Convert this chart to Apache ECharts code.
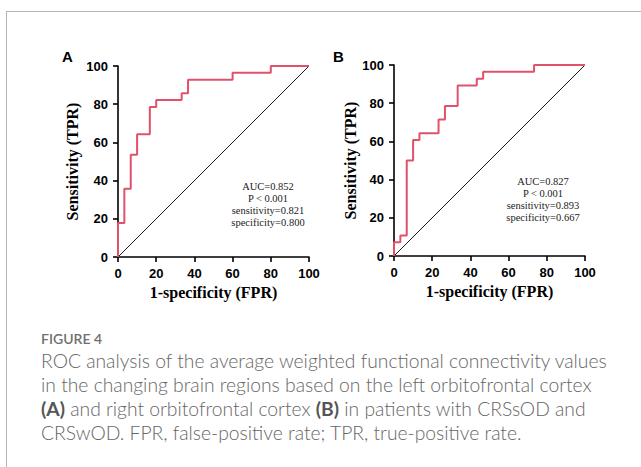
<!DOCTYPE html>
<html>
<head>
<meta charset="utf-8">
<script src="https://cdn.jsdelivr.net/npm/echarts@6/dist/echarts.min.js"></script>
<style>
  html, body { margin: 0; padding: 0; background: #fff; }
  body { width: 641px; height: 467px; position: relative; overflow: hidden; }
  #frame { position: absolute; left: 6px; top: 11px; width: 700px; height: 520px; border: 1px solid #b4b4b4; box-sizing: border-box; }
  #chart { position: absolute; left: 0; top: 0; width: 641px; height: 320px; }
  .cap { position: absolute; left: 41px; font-family: Lato, "Open Sans", sans-serif; color: #666; white-space: nowrap; }
  .fig { top: 331px; font-size: 14px; font-weight: 600; line-height: 16px; color: #707070; }
  .line { font-size: 19.3px; line-height: 24px; font-weight: 300; }
  .line b { font-weight: 700; color: #555; }
</style>
</head>
<body>
<div id="frame"></div>
<div id="chart"></div>
<div class="cap fig">FIGURE 4</div>
<div class="cap line" style="top:349px">ROC analysis of the average weighted functional connectivity values</div>
<div class="cap line" style="top:373px">in the changing brain regions based on the left orbitofrontal cortex</div>
<div class="cap line" style="top:397px"><b>(A)</b> and right orbitofrontal cortex <b>(B)</b> in patients with CRSsOD and</div>
<div class="cap line" style="top:421px">CRSwOD. FPR, false-positive rate; TPR, true-positive rate.</div>
<script>
// ---- data ----
const xTicks = [0, 20, 40, 60, 80, 100];
const yTicks = [0, 20, 40, 60, 80, 100];
const fprA = [0, 0, 3.33, 6.67, 10, 16.67, 20, 33.33, 36.67, 60, 80, 100];
const tprA = [0, 17.86, 35.71, 53.57, 64.29, 78.57, 82.14, 85.71, 92.86, 96.43, 100, 100];
const fprB = [0, 0, 3.33, 6.67, 10, 13.33, 23.33, 26.67, 33.33, 43.33, 46.67, 73.33, 100];
const tprB = [0, 7.14, 10.71, 50, 60.71, 64.29, 71.43, 78.57, 89.29, 92.86, 96.43, 100, 100];
const refX = [0, 100];
const refY = [0, 100];
const statsA = ['AUC=0.852', 'P < 0.001', 'sensitivity=0.821', 'specificity=0.800'];
const statsB = ['AUC=0.827', 'P < 0.001', 'sensitivity=0.893', 'specificity=0.667'];
const panelLabels = ['A', 'B'];
const xName = '1-specificity (FPR)';
const yName = 'Sensitivity (TPR)';

const pairs = (xs, ys) => xs.map((x, i) => [x, ys[i]]);

const axisCommon = {
  type: 'value', min: 0, max: 100, interval: 20,
  axisLine: { show: true, lineStyle: { color: '#000', width: 1.6 } },
  axisTick: { show: true, inside: false, length: 5, lineStyle: { color: '#000', width: 1.6 } },
  axisLabel: { color: '#000', fontFamily: '"Liberation Sans", Arial, sans-serif', fontWeight: 'bold', fontSize: 13, margin: 10 },
  splitLine: { show: false },
  nameLocation: 'middle',
  nameTextStyle: { color: '#000', fontFamily: '"Liberation Serif", "Times New Roman", serif', fontWeight: 'bold', fontSize: 16 }
};

function xAxis(gi, gap) {
  return Object.assign({}, axisCommon, { gridIndex: gi, name: xName, nameGap: gap });
}
function yAxis(gi, gap) {
  return Object.assign({}, axisCommon, { gridIndex: gi, name: yName, nameGap: gap });
}

const rocStyle = { color: '#e0526b', width: 2 };
const refStyle = { color: '#000', width: 0.9 };

function statsText(lines, cx, y0, lh) {
  return lines.map((t, i) => ({
    type: 'text', x: cx, y: y0 + i * lh,
    style: {
      text: t, align: 'center', verticalAlign: 'middle',
      font: '10.5px "Liberation Serif", "Times New Roman", serif',
      fill: '#222'
    }
  }));
}

const chart = echarts.init(document.getElementById('chart'), null, { renderer: 'svg' });
chart.setOption({
  animation: false,
  grid: [
    { left: 118, top: 66, width: 191, height: 191 },
    { left: 394, top: 65, width: 191, height: 191 }
  ],
  xAxis: [xAxis(0, 27), xAxis(1, 23)],
  yAxis: [yAxis(0, 38), yAxis(1, 35)],
  series: [
    { type: 'line', xAxisIndex: 0, yAxisIndex: 0, data: pairs(refX, refY), symbol: 'none', lineStyle: refStyle, clip: false, z: 3 },
    { type: 'line', xAxisIndex: 0, yAxisIndex: 0, data: pairs(fprA, tprA), step: 'end', symbol: 'none', lineStyle: rocStyle, clip: false, z: 4 },
    { type: 'line', xAxisIndex: 1, yAxisIndex: 1, data: pairs(refX, refY), symbol: 'none', lineStyle: refStyle, clip: false, z: 3 },
    { type: 'line', xAxisIndex: 1, yAxisIndex: 1, data: pairs(fprB, tprB), step: 'end', symbol: 'none', lineStyle: rocStyle, clip: false, z: 4 }
  ],
  graphic: [
    { type: 'text', left: 62, top: 49, style: { text: panelLabels[0], font: 'bold 15px "Liberation Sans", Arial, sans-serif', fill: '#000' } },
    { type: 'text', left: 333, top: 49, style: { text: panelLabels[1], font: 'bold 15px "Liberation Sans", Arial, sans-serif', fill: '#000' } }
  ].concat(statsText(statsA, 268, 186, 12.3), statsText(statsB, 543, 181, 12.3))
});
</script>
</body>
</html>
